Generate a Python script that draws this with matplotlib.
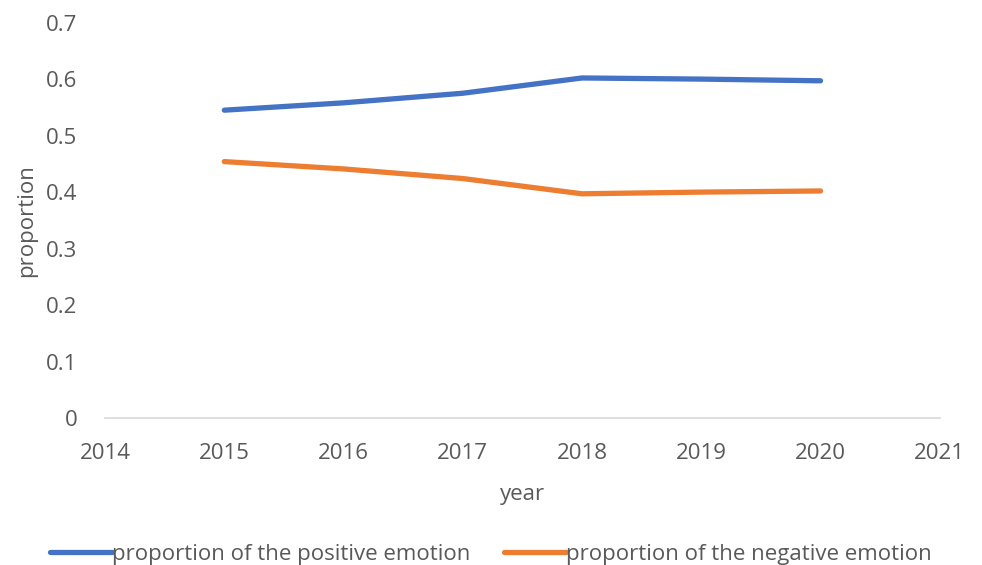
import numpy as np
import matplotlib.pyplot as plt

plt.rcParams['font.family'] = ['Open Sans', 'DejaVu Sans']

years = [2015, 2016, 2017, 2018, 2019, 2020]
positive = [0.545, 0.558, 0.575, 0.602, 0.600, 0.597]
negative = [0.454, 0.441, 0.424, 0.397, 0.400, 0.402]
labels = ['proportion of the positive emotion', 'proportion of the negative emotion']

txt = '#595959'

fig = plt.figure(figsize=(9.82, 5.65), dpi=100)
ax = fig.add_axes([0.107, 0.26, 0.85, 0.70])

ax.plot(years, positive, color='#4472C4', lw=3.8, solid_capstyle='round', label=labels[0])
ax.plot(years, negative, color='#ED7D31', lw=3.8, solid_capstyle='round', label=labels[1])

ax.set_xlim(2014, 2021)
ax.set_ylim(0, 0.7)
ax.set_xticks(range(2014, 2022))
ax.set_yticks(np.arange(0, 0.71, 0.1))
ax.set_yticklabels(['0', '0.1', '0.2', '0.3', '0.4', '0.5', '0.6', '0.7'])

for s in ['top', 'right', 'left']:
    ax.spines[s].set_visible(False)
ax.spines['bottom'].set_color('#D9D9D9')
ax.spines['bottom'].set_linewidth(1.2)
ax.tick_params(length=0, labelsize=16, colors=txt)
ax.tick_params(axis='x', pad=18)
ax.tick_params(axis='y', pad=20)

ax.set_xlabel('year', fontsize=16, color=txt, labelpad=14)
ax.set_ylabel('proportion', fontsize=16, color=txt, labelpad=6)

fig.legend(loc='lower center', bbox_to_anchor=(0.5, -0.035), ncol=2, frameon=False,
           fontsize=16, handlelength=2.8, handletextpad=0.0, columnspacing=1.5,
           labelcolor=txt)

fig.savefig('out.png', dpi=100)
